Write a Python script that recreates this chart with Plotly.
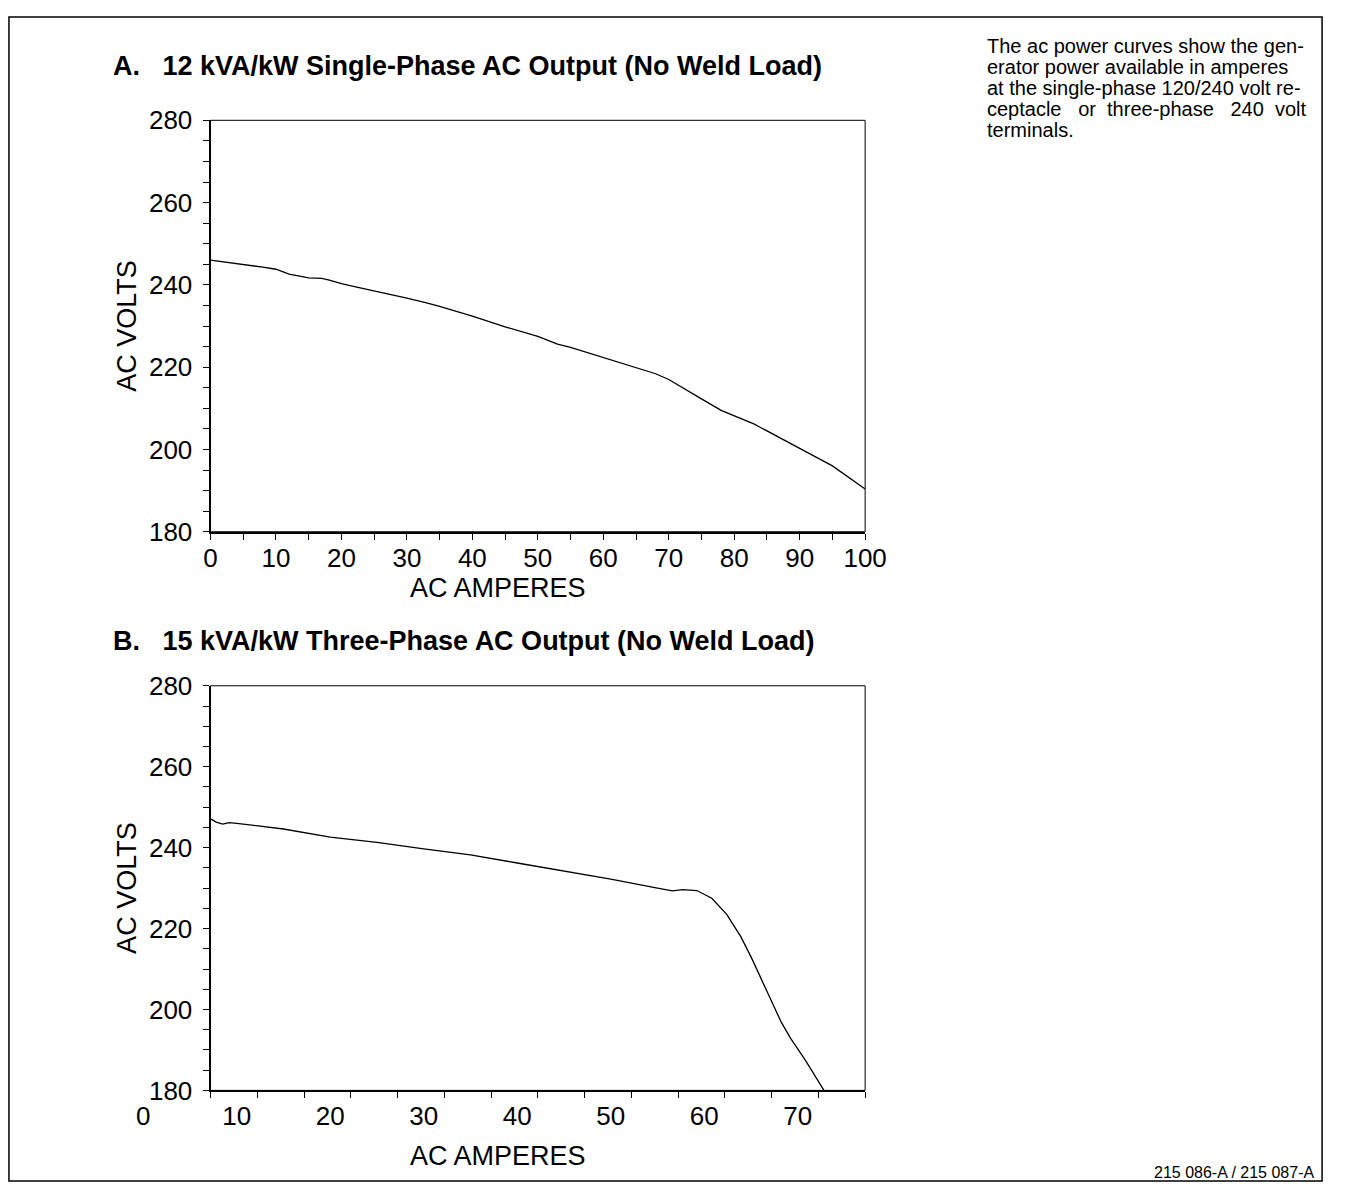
import plotly.graph_objects as go

# A. 12 kVA/kW single-phase curve (amps, volts)
amps_a = [0, 2, 5, 8, 10, 12, 15, 17, 18, 20, 22, 25, 28, 30, 33, 35, 40, 45, 50, 53, 55,
          60, 65, 68, 70, 72, 75, 78, 80, 83, 85, 90, 95, 100]
volts_a = [246.0, 245.6, 245.0, 244.3, 243.8, 242.6, 241.7, 241.6, 241.2, 240.3, 239.6, 238.6,
           237.6, 236.8, 235.6, 234.8, 232.4, 229.8, 227.5, 225.6, 224.8, 222.3, 219.9, 218.4,
           217.0, 215.2, 212.3, 209.5, 208.2, 206.2, 204.5, 200.3, 196.0, 190.4]

# B. 15 kVA/kW three-phase curve
amps_b = [7.2, 7.8, 8.5, 9.2, 10, 12, 15, 20, 25, 30, 35, 40, 45, 50, 55, 56.6, 57.7, 59.2,
          60.8, 62.4, 63.9, 65.0, 66.6, 68.2, 69.2, 70.8, 72.8]
volts_b = [247.1, 246.3, 245.8, 246.2, 246.0, 245.5, 244.6, 242.6, 241.3, 239.7, 238.2, 236.2,
           234.2, 232.2, 230.0, 229.3, 229.6, 229.4, 227.5, 223.5, 218.0, 213.0, 205.0, 197.0,
           193.0, 187.5, 180.0]

xrange_a = [0, 100]
xrange_b = [7.2, 77.2]
yrange = [180, 280]
xlabels_b = [0, 10, 20, 30, 40, 50, 60, 70]

title_a = "A.   12 kVA/kW Single-Phase AC Output (No Weld Load)"
title_b = "B.   15 kVA/kW Three-Phase AC Output (No Weld Load)"
note_lines = ["The ac power curves show the gen-",
              "erator power available in amperes",
              "at the single-phase 120/240 volt re-",
              "ceptacle   or  three-phase   240  volt",
              "terminals."]
footer = "215 086-A / 215 087-A"

W, H = 1348, 1199
FONT = "Liberation Sans, Arial, Helvetica, sans-serif"


def fx(p):
    return p / W


def fy(p):
    return 1 - p / H


xdom = [fx(208), fx(877)]
ydom_a = [fy(530), fy(108)]
ydom_b = [fy(1103), fy(688)]
# label axis for B reaches out left to where 0 A would be
span = xrange_b[1] - xrange_b[0]
xdom_lab = [xdom[0] - (xrange_b[0] - xlabels_b[0]) / span * (xdom[1] - xdom[0]), xdom[1]]

fig = go.Figure()
fig.add_trace(go.Scatter(x=amps_a, y=volts_a, mode="lines", xaxis="x", yaxis="y",
                         line=dict(color="black", width=1.3), showlegend=False))
fig.add_trace(go.Scatter(x=amps_b, y=volts_b, mode="lines", xaxis="x2", yaxis="y2",
                         line=dict(color="black", width=1.3), showlegend=False))
fig.add_trace(go.Scatter(x=[], y=[], mode="lines", xaxis="x3", yaxis="y2", showlegend=False))

tickfont = dict(family=FONT, size=26, color="black")
common = dict(showgrid=False, zeroline=False, showline=True, linecolor="black", linewidth=2,
              ticks="outside", ticklen=6, tickwidth=1, tickcolor="black", tickfont=tickfont,
              fixedrange=True)
yaxis_common = dict(common, range=yrange, tickmode="linear", tick0=180, dtick=20,
                    minor=dict(ticks="outside", dtick=5, ticklen=6, tickcolor="black"),
                    title=dict(text="AC VOLTS", font=dict(family=FONT, size=27), standoff=4),
                    ticklabelstandoff=5)

fig.update_layout(
    width=W, height=H,
    margin=dict(l=0, r=0, t=0, b=0),
    plot_bgcolor="rgba(0,0,0,0)", paper_bgcolor="white",
    font=dict(family=FONT, color="black"),
    xaxis=dict(common, domain=xdom, anchor="y", range=xrange_a, tickmode="linear", tick0=0,
               dtick=10, minor=dict(ticks="outside", dtick=5, ticklen=6, tickcolor="black"),
               ticklabelstandoff=-4),
    yaxis=dict(yaxis_common, domain=ydom_a, anchor="x"),
    xaxis2=dict(common, domain=xdom, anchor="y2", range=xrange_b, tickmode="linear",
                tick0=xrange_b[0], dtick=5, showticklabels=False),
    yaxis2=dict(yaxis_common, domain=ydom_b, anchor="x2"),
    xaxis3=dict(domain=xdom_lab, anchor="y2", range=[xlabels_b[0], xrange_b[1]],
                tickmode="array", tickvals=xlabels_b, ticks="", showline=False,
                showgrid=False, zeroline=False, tickfont=tickfont, ticklabelstandoff=8,
                fixedrange=True),
)

# thin frame on top/right of each plot
for xr, yr in [("x domain", "y domain"), ("x2 domain", "y2 domain")]:
    fig.add_shape(type="rect", xref=xr, yref=yr, x0=0, x1=1, y0=0, y1=1,
                  line=dict(color="black", width=1))
# outer page border
fig.add_shape(type="rect", xref="paper", yref="paper", x0=fx(2), x1=fx(1344),
              y0=fy(1196), y1=fy(2), line=dict(color="black", width=1.5))

ann = dict(xref="paper", yref="paper", showarrow=False)
titlefont = dict(family=FONT, size=27)
fig.add_annotation(ann, x=fx(106), y=fy(52), xanchor="left", yanchor="middle",
                   text="<b>" + title_a + "</b>", font=titlefont)
fig.add_annotation(ann, x=fx(106), y=fy(642), xanchor="left", yanchor="middle",
                   text="<b>" + title_b + "</b>", font=titlefont)
fig.add_annotation(ann, x=fx(502), y=fy(588), xanchor="center", yanchor="middle",
                   text="AC AMPERES", font=dict(family=FONT, size=27))
fig.add_annotation(ann, x=fx(502), y=fy(1170), xanchor="center", yanchor="middle",
                   text="AC AMPERES", font=dict(family=FONT, size=27))
for i, line in enumerate(note_lines):
    fig.add_annotation(ann, x=fx(1000), y=fy(32 + i * 21.5), xanchor="left", yanchor="middle",
                       text=line, font=dict(family=FONT, size=20))
fig.add_annotation(ann, x=fx(1338), y=fy(1187), xanchor="right", yanchor="middle",
                   text=footer, font=dict(family=FONT, size=16))

# drop the default body margin so the 1348x1199 figure fills the window
fig.write_html("out.html", config={"displayModeBar": False},
               post_script="document.body.style.margin='0';")
